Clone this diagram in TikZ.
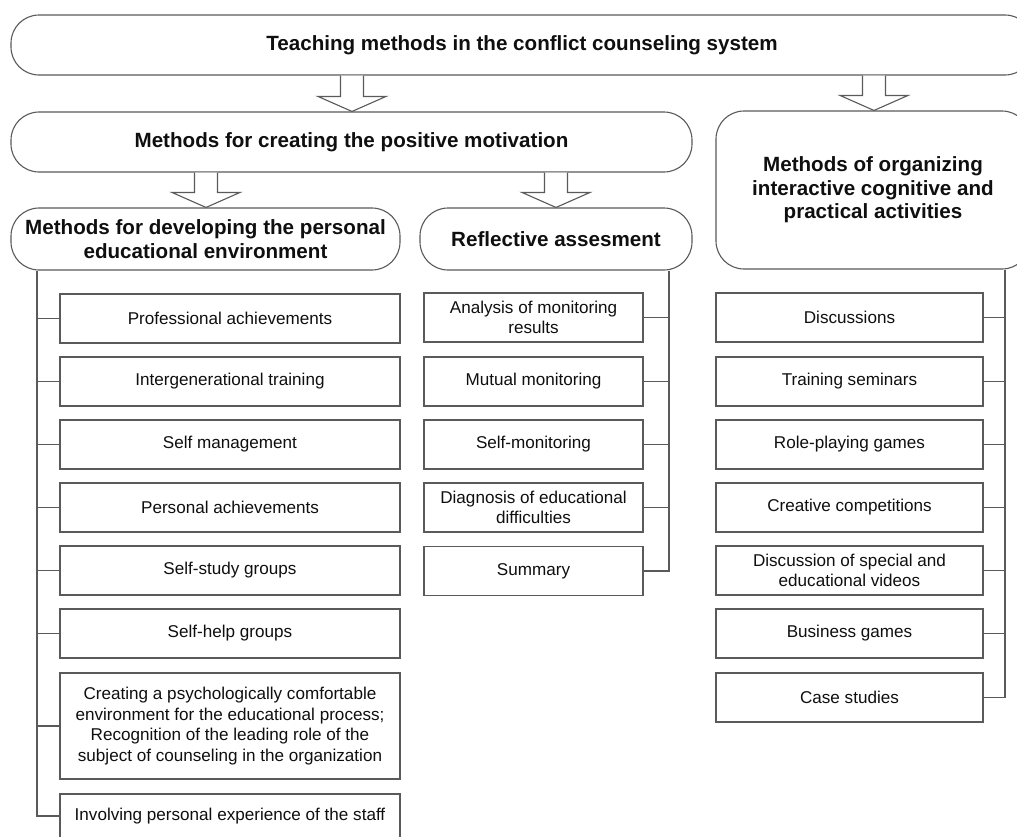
\documentclass[tikz,border=0pt]{standalone}
\usepackage{fontspec}
\setmainfont{Liberation Sans}
\usetikzlibrary{calc}
\definecolor{ln}{RGB}{90,90,90}
\definecolor{tx}{RGB}{15,15,15}
\newcommand\blockarr[2]{\draw[barrow] let \p1=#1, \p2=#2 in
  (\x1-11.5pt,\y1) -- (\x1-11.5pt,\y2+15pt) -- (\x1-34pt,\y2+15pt) -- (\x2,\y2)
  -- (\x1+34pt,\y2+15pt) -- (\x1+11.5pt,\y2+15pt) -- (\x1+11.5pt,\y1);}
\begin{document}
\begin{tikzpicture}[x=1pt,y=-1pt,
  box/.style={draw=ln,line width=1.1pt,rectangle,inner sep=0pt,align=center,text=tx,
    font=\fontsize{17.1}{20.4}\selectfont},
  hdr/.style={draw=ln,line width=1.1pt,rectangle,rounded corners=28pt,inner sep=0pt,align=center,text=tx,
    font=\bfseries\fontsize{20.6}{23.5}\selectfont},
  conn/.style={draw=ln,line width=1.1pt},
  barrow/.style={draw=ln,line width=1.1pt,fill=white,line join=miter}]
\useasboundingbox (0,0) rectangle (1017,836);
\fill[white] (0,0) rectangle (1017,836);
\clip (0,0) rectangle (1017,836);

% headers
\node[hdr,minimum width=1022pt,minimum height=60pt] (top) at (522,45) {Teaching methods in the conflict counseling system};
\node[hdr,minimum width=681pt,minimum height=60pt] (mot) at (351.5,142) {Methods for creating the positive motivation};
\node[hdr,minimum width=314pt,minimum height=158pt] (rb) at (873,190) {Methods of organizing\\interactive cognitive and\\practical activities};
\node[hdr,minimum width=389pt,minimum height=62pt] (lh) at (205.5,239) {Methods for developing the personal\\educational environment};
\node[hdr,minimum width=272pt,minimum height=62pt] (refl) at (556,239) {Reflective assesment};

% block arrows
\blockarr{(top.south -| 352,0)}{(mot.north -| 352,0)}
\blockarr{(top.south -| 874,0)}{(rb.north -| 874,0)}
\blockarr{(mot.south -| 206,0)}{(lh.north -| 206,0)}
\blockarr{(mot.south -| 556,0)}{(refl.north -| 556,0)}

% left column
\begin{scope}[every node/.style={box,minimum width=340pt,minimum height=49pt}]
\node (l1) at (230,318.5) {Professional achievements};
\node (l2) at (230,381.5) {Intergenerational training};
\node (l3) at (230,444.5) {Self management};
\node (l4) at (230,507.5) {Personal achievements};
\node (l5) at (230,570.5) {Self-study groups};
\node (l6) at (230,633.5) {Self-help groups};
\node[minimum height=106pt,font=\fontsize{17.1}{20.8}\selectfont] (l7) at (230,726) {Creating a psychologically comfortable\\environment for the educational process;\\Recognition of the leading role of the\\subject of counseling in the organization};
\node[minimum height=44pt] (l8) at (230,816) {Involving personal experience of the staff};
\end{scope}
\draw[conn] (lh.south -| 37,0) |- (l8.west);
\foreach \n in {l1,l2,l3,l4,l5,l6,l7} \draw[conn] (\n.west) -- (\n.west -| 37,0);

% middle column
\begin{scope}[every node/.style={box,minimum width=219pt,minimum height=49pt}]
\node (m1) at (533.5,317.5) {Analysis of monitoring\\results};
\node (m2) at (533.5,381.5) {Mutual monitoring};
\node (m3) at (533.5,444.5) {Self-monitoring};
\node (m4) at (533.5,507.5) {Diagnosis of educational\\difficulties};
\node (m5) at (533.5,571) {Summary};
\end{scope}
\draw[conn] (refl.south -| 669,0) |- (m5.east);
\foreach \n in {m1,m2,m3,m4} \draw[conn] (\n.east) -- (\n.east -| 669,0);

% right column
\begin{scope}[every node/.style={box,minimum width=267pt,minimum height=49pt}]
\node (r1) at (849.5,317.5) {Discussions};
\node (r2) at (849.5,381.5) {Training seminars};
\node (r3) at (849.5,444.5) {Role-playing games};
\node (r4) at (849.5,507.5) {Creative competitions};
\node (r5) at (849.5,570.5) {Discussion of special and\\educational videos};
\node (r6) at (849.5,633.5) {Business games};
\node (r7) at (849.5,697.5) {Case studies};
\end{scope}
\draw[conn] (rb.south -| 1005,0) |- (r7.east);
\foreach \n in {r1,r2,r3,r4,r5,r6} \draw[conn] (\n.east) -- (\n.east -| 1005,0);
\end{tikzpicture}
\end{document}
